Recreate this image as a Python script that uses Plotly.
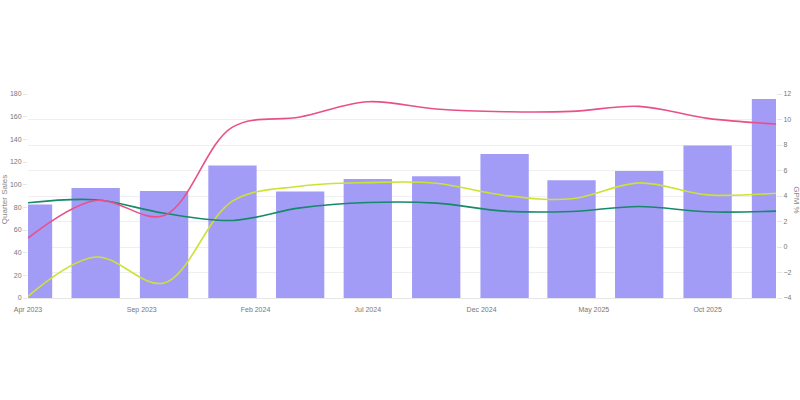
import plotly.graph_objects as go

quarters = ["2023-04-01", "2023-07-01", "2023-10-01", "2024-01-01", "2024-04-01", "2024-07-01",
            "2024-10-01", "2025-01-01", "2025-04-01", "2025-07-01", "2025-10-01", "2026-01-01"]
quarter_sales = [82.5, 97, 94.5, 117, 94, 105, 107.5, 127, 104, 112, 134.5, 175.5]
gpm_pink = [0.7, 3.65, 2.47, 9.4, 10.2, 11.39, 10.82, 10.61, 10.64, 11.03, 10.09, 9.65]
gpm_yellow = [-3.87, -0.79, -2.82, 3.6, 4.77, 5.05, 5.0, 4.04, 3.78, 5.03, 4.09, 4.22]
gpm_green = [3.47, 3.70, 2.65, 2.08, 3.07, 3.49, 3.44, 2.81, 2.79, 3.18, 2.76, 2.81]

FONT = "Liberation Sans, Arial, sans-serif"
TICK_COLOR = "#777777"
DAY_MS = 86400000

fig = go.Figure()
fig.add_trace(go.Bar(x=quarters, y=quarter_sales, name="Quarter Sales",
                     marker=dict(color="#a39cf6", line=dict(width=0)),
                     width=[65 * DAY_MS] * len(quarters), yaxis="y"))
fig.add_trace(go.Scatter(x=quarters, y=gpm_yellow, name="GPM 1", mode="lines",
                         line=dict(color="#cde234", width=1.6, shape="spline", smoothing=1),
                         yaxis="y2"))
fig.add_trace(go.Scatter(x=quarters, y=gpm_green, name="GPM 2", mode="lines",
                         line=dict(color="#15896a", width=1.6, shape="spline", smoothing=1),
                         yaxis="y2"))
fig.add_trace(go.Scatter(x=quarters, y=gpm_pink, name="GPM 3", mode="lines",
                         line=dict(color="#e8508a", width=1.6, shape="spline", smoothing=1),
                         yaxis="y2"))

fig.update_layout(
    width=800, height=400,
    margin=dict(l=28, r=24, t=94, b=102, autoexpand=False),
    paper_bgcolor="white", plot_bgcolor="white",
    showlegend=False,
    font=dict(family=FONT, size=7, color=TICK_COLOR),
    bargap=0.28,
    xaxis=dict(type="date", range=["2023-04-01", "2026-01-01"],
               tick0="2023-04-01", dtick="M5", tickformat="%b %Y",
               showgrid=False, showline=True, linecolor="#e6e6e6", linewidth=1,
               ticks="outside", ticklen=5, tickcolor="rgba(0,0,0,0)",
               tickfont=dict(size=7, color=TICK_COLOR), automargin=False),
    yaxis=dict(range=[0, 180], dtick=20, showgrid=False, zeroline=False,
               ticks="outside", ticklen=4, tickcolor="#e6e6e6",
               tickfont=dict(size=7, color=TICK_COLOR), automargin=False),
    yaxis2=dict(range=[-4, 12], dtick=2, overlaying="y", side="right",
                showgrid=True, gridcolor="#efefef", gridwidth=1, zeroline=False,
                ticks="outside", ticklen=5, tickcolor="#e6e6e6",
                tickfont=dict(size=7, color=TICK_COLOR), automargin=False),
    annotations=[
        dict(text="Quarter Sales", xref="paper", yref="paper", x=-0.032, y=0.48,
             textangle=-90, showarrow=False, xanchor="center", yanchor="middle",
             font=dict(family=FONT, size=8, color="#888888")),
        dict(text="GPM %", xref="paper", yref="paper", x=1.028, y=0.48,
             textangle=90, showarrow=False, xanchor="center", yanchor="middle",
             font=dict(family=FONT, size=8, color="#888888")),
    ],
)

fig.write_html("out.html")
